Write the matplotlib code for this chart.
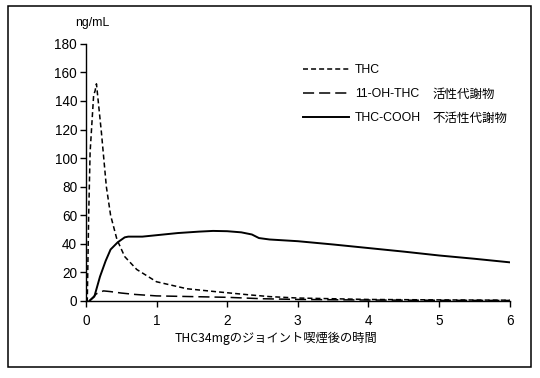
import matplotlib
matplotlib.use('Agg')
import matplotlib.pyplot as plt
from matplotlib.patches import Rectangle

plt.rcParams['font.family'] = ['Liberation Sans', 'Noto Sans CJK JP', 'DejaVu Sans']
plt.rcParams['lines.scale_dashes'] = False

# hours after smoking, ng/mL
thc_t = [0.0, 0.02, 0.04, 0.06, 0.11, 0.13, 0.15, 0.22, 0.29, 0.35, 0.44, 0.55, 0.72,
         1.0, 1.43, 1.85, 2.32, 2.6, 3.0, 3.5, 4.0, 5.0, 6.0]
thc_c = [0.0, 0.0, 60, 104, 144, 147, 152, 118, 80, 60, 43, 31, 22,
         13.4, 8.5, 6.4, 4.2, 3.0, 2.0, 1.5, 1.0, 0.7, 0.5]

oh_t = [0.05, 0.15, 0.25, 0.35, 0.5, 0.7, 1.0, 1.5, 2.0, 2.5, 3.0, 4.0, 5.0, 6.0]
oh_c = [0.0, 5.0, 7.0, 6.5, 5.5, 4.5, 3.5, 3.0, 2.5, 1.5, 1.0, 0.6, 0.4, 0.3]

cooh_t = [0.05, 0.12, 0.2, 0.28, 0.35, 0.45, 0.55, 0.6, 0.8, 1.0, 1.3, 1.6, 1.8, 2.0,
          2.2, 2.35, 2.45, 2.6, 3.0, 3.5, 4.0, 4.5, 5.0, 5.5, 6.0]
cooh_c = [0.0, 3.0, 17, 28, 36, 41, 44.5, 45, 45, 46, 47.5, 48.5, 49, 48.8,
          48, 46.5, 44, 43, 41.8, 39.5, 37, 34.5, 31.8, 29.5, 27]

labels = ['THC', '11-OH-THC', 'THC-COOH']
notes = ['', '活性代謝物', '不活性代謝物']
xticks = [0, 1, 2, 3, 4, 5, 6]
yticks = [0, 20, 40, 60, 80, 100, 120, 140, 160, 180]

fig = plt.figure(figsize=(5.4, 3.78), dpi=100)
ax = fig.add_axes([0.159, 0.204, 0.785, 0.680])

l1, = ax.plot(thc_t, thc_c, color='black', lw=1.1, dashes=(3.6, 2.2), label=labels[0])
l2, = ax.plot(oh_t, oh_c, color='black', lw=1.1, dashes=(8, 3.6), label=labels[1])
l3, = ax.plot(cooh_t, cooh_c, color='black', lw=1.4, label=labels[2])

ax.set_xlim(0, 6)
ax.set_ylim(0, 180)
ax.set_xticks(xticks)
ax.set_yticks(yticks)
for s in ['top', 'right']:
    ax.spines[s].set_visible(False)
for s in ['left', 'bottom']:
    ax.spines[s].set_linewidth(1.0)
ax.tick_params(direction='out', length=4.3, width=1.0, labelsize=9.8, pad=2)
ax.tick_params(axis='x', pad=5)

leg = ax.legend(handles=[l1, l2, l3], loc='upper left', bbox_to_anchor=(0.561, 0.830),
                bbox_transform=fig.transFigure, frameon=False, fontsize=8.8,
                handlelength=3.8, handletextpad=0.45, labelspacing=0.98,
                borderpad=0, borderaxespad=0)

# put the japanese notes on the same line as the legend labels
fig.canvas.draw()
inv = fig.transFigure.inverted()
for t, n in zip(leg.get_texts(), notes):
    if n:
        bb = t.get_window_extent()
        y = inv.transform((0, (bb.y0 + bb.y1) / 2.0))[1]
        fig.text(432 / 540., y, n, fontsize=9, va='center', ha='left',
                 family=['Noto Sans CJK JP'])

fig.text(92 / 540., 1 - 23 / 378., 'ng/mL', fontsize=8.8, ha='center', va='center')
fig.text(276 / 540., 1 - 338 / 378., 'THC34mgのジョイント喫煙後の時間', fontsize=8.8,
         ha='center', va='center', family=['Noto Sans CJK JP'])

fig.add_artist(Rectangle((8 / 540., 1 - 367 / 378.), 523 / 540., 361 / 378.,
                         transform=fig.transFigure, fill=False, ec='black', lw=1.1))

fig.savefig('out.png', dpi=100)
